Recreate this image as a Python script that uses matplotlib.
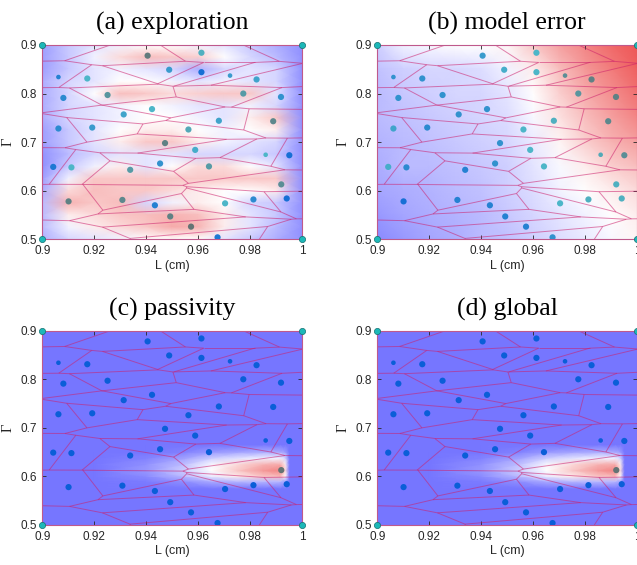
import numpy as np
import matplotlib.pyplot as plt
from matplotlib.colors import LinearSegmentedColormap
from matplotlib.collections import LineCollection

plt.rcParams['font.family'] = ['Liberation Sans', 'DejaVu Sans']

# 采样点坐标 (L, Gamma)
L_pts = [0.9405, 0.9612, 0.9062, 0.9173, 0.9488, 0.9612, 0.9722, 0.9824,
         0.9081, 0.9251, 0.9773, 0.9918, 0.9422, 0.9313, 0.9679, 0.9888,
         0.9062, 0.9192, 0.9562, 0.9472, 0.9588, 0.9859, 0.9950, 0.9042,
         0.9112, 0.9338, 0.9453, 0.9641, 0.9919, 0.9101, 0.9308, 0.9433,
         0.9703, 0.9812, 0.9940, 0.9492, 0.9572, 0.9674]
G_pts = [0.878, 0.884, 0.834, 0.831, 0.849, 0.844, 0.837, 0.829,
         0.791, 0.797, 0.800, 0.793, 0.768, 0.757, 0.744, 0.743,
         0.728, 0.730, 0.726, 0.698, 0.684, 0.674, 0.673, 0.649,
         0.648, 0.643, 0.656, 0.650, 0.613, 0.578, 0.581, 0.570,
         0.574, 0.582, 0.584, 0.547, 0.526, 0.504]
small_idx = [2, 6, 21]

# 四个角点
corner_L = [0.9, 1.0, 0.9, 1.0]
corner_G = [0.5, 0.5, 0.9, 0.9]

# 各子图中采样点的颜色值 (0 蓝, 0.5 青, 1 灰)
pt_a = [0.95, 0.55, 0.2, 0.5, 0.35, 0.1, 0.35, 0.4,
        0.25, 0.75, 0.7, 0.3, 0.5, 0.4, 0.4, 0.85,
        0.25, 0.35, 0.6, 0.9, 0.45, 0.5, 0.1, 0.15,
        0.5, 0.7, 0.3, 0.7, 0.8, 0.9, 0.85, 0.2,
        0.5, 0.25, 0.1, 0.9, 1.0, 0.15]
pt_b = [0.35, 0.5, 0.3, 0.3, 0.45, 0.5, 0.8, 0.9,
        0.3, 0.3, 0.75, 0.9, 0.3, 0.3, 0.55, 0.85,
        0.4, 0.25, 0.5, 0.3, 0.5, 0.6, 0.8, 0.45,
        0.25, 0.2, 0.3, 0.5, 0.55, 0.1, 0.2, 0.2,
        0.5, 0.55, 0.55, 0.2, 0.2, 0.3]
pt_c = [0, 0, 0, 0, 0, 0, 0, 0,
        0, 0, 0, 0, 0, 0, 0, 0,
        0, 0, 0, 0, 0, 0, 0, 0,
        0, 0, 0, 0, 1, 0, 0, 0,
        0, 0, 0, 0, 0, 0]

# 背景场网格 (-1 蓝, 0 白, 1 红)
grid_L = [0.9, 0.91, 0.92, 0.93, 0.94, 0.95, 0.96, 0.97, 0.98, 0.99, 1.0]
grid_G_a = [0.9, 0.875, 0.85, 0.825, 0.8, 0.775, 0.75, 0.725, 0.7,
            0.675, 0.65, 0.625, 0.6, 0.575, 0.55, 0.525, 0.5]
field_a = [
    [-0.7, -0.4, -0.2, -0.1, 0.0, 0.0, -0.1, -0.2, -0.4, -0.6, -0.8],
    [-0.7, -0.4, -0.1, 0.2, 0.35, 0.3, 0.25, 0.0, -0.3, -0.5, -0.8],
    [-0.7, -0.4, -0.2, -0.1, -0.2, -0.3, -0.6, -0.3, -0.2, -0.3, -0.8],
    [-0.6, -0.3, -0.2, 0.0, 0.0, -0.1, -0.2, -0.1, -0.2, -0.3, -0.8],
    [-0.6, -0.3, 0.0, 0.35, 0.3, 0.2, 0.25, 0.3, 0.3, -0.2, -0.8],
    [-0.6, -0.3, -0.2, -0.1, 0.0, -0.1, -0.2, -0.2, -0.1, -0.3, -0.8],
    [-0.6, -0.3, -0.2, -0.1, 0.0, 0.0, -0.1, -0.2, 0.1, 0.3, -0.8],
    [-0.7, -0.4, -0.2, 0.0, 0.1, 0.1, 0.0, -0.1, 0.0, 0.1, -0.8],
    [-0.7, -0.4, -0.2, 0.1, 0.3, 0.3, 0.1, -0.1, -0.2, -0.3, -0.8],
    [-0.8, -0.5, -0.3, -0.2, -0.2, -0.2, -0.3, -0.3, -0.3, -0.4, -0.8],
    [-0.8, -0.4, -0.1, 0.1, -0.2, 0.0, 0.2, 0.2, 0.0, -0.2, -0.8],
    [-0.7, -0.1, 0.3, 0.3, 0.3, 0.3, 0.3, 0.3, 0.3, 0.3, -0.8],
    [-0.6, 0.2, 0.35, 0.3, 0.3, 0.2, 0.1, 0.0, 0.0, 0.1, -0.8],
    [-0.5, 0.4, 0.3, 0.35, -0.3, -0.1, 0.1, 0.0, -0.3, -0.4, -0.8],
    [-0.5, 0.1, 0.2, 0.3, 0.35, 0.4, 0.35, 0.1, -0.2, -0.4, -0.8],
    [-0.5, -0.1, 0.1, 0.2, 0.3, 0.45, 0.4, 0.1, -0.2, -0.5, -0.8],
    [-0.6, -0.3, -0.2, -0.1, 0.0, 0.0, 0.0, -0.2, -0.4, -0.6, -0.8],
]
grid_G_b = [0.9, 0.85, 0.8, 0.75, 0.7, 0.65, 0.6, 0.55, 0.5]
field_b = [
    [-0.35, -0.1, -0.05, 0.0, 0.0, 0.05, 0.3, 0.5, 0.65, 0.8, 0.9],
    [-0.45, -0.35, -0.3, -0.3, -0.25, -0.1, 0.1, 0.35, 0.55, 0.7, 0.85],
    [-0.5, -0.4, -0.35, -0.3, -0.3, -0.2, 0.0, 0.25, 0.45, 0.6, 0.75],
    [-0.5, -0.45, -0.4, -0.35, -0.3, -0.25, -0.05, 0.15, 0.35, 0.5, 0.65],
    [-0.55, -0.5, -0.45, -0.4, -0.35, -0.3, -0.15, 0.05, 0.25, 0.4, 0.5],
    [-0.6, -0.5, -0.5, -0.45, -0.4, -0.35, -0.2, -0.05, 0.1, 0.25, 0.35],
    [-0.65, -0.6, -0.55, -0.5, -0.45, -0.35, -0.25, -0.1, 0.0, 0.1, 0.2],
    [-0.75, -0.65, -0.6, -0.55, -0.5, -0.4, -0.3, -0.2, -0.1, 0.0, 0.1],
    [-0.85, -0.75, -0.65, -0.6, -0.5, -0.45, -0.35, -0.25, -0.15, -0.05, 0.05],
]
# (c)(d) 只有右侧一块楔形非蓝区域
wedge_L = [0.92, 0.94, 0.955, 0.965, 0.975, 0.985, 0.9915, 0.9935, 0.995]
wedge_G = [0.575, 0.59, 0.60, 0.612, 0.625, 0.637, 0.65, 0.665]
field_c = [
    [-1, -1, -1, -1, -1, -1, -1, -1, -1],
    [-1, -0.95, -0.8, -0.6, -0.5, -0.5, -0.5, -0.7, -1],
    [-1, -0.85, -0.5, -0.15, 0.1, 0.3, 0.35, 0.0, -1],
    [-1, -0.75, -0.35, 0.0, 0.3, 0.55, 0.65, 0.2, -1],
    [-1, -0.8, -0.45, -0.05, 0.2, 0.4, 0.45, 0.1, -1],
    [-1, -0.9, -0.65, -0.35, -0.2, -0.1, -0.1, -0.3, -1],
    [-1, -1, -0.9, -0.75, -0.65, -0.6, -0.6, -0.7, -1],
    [-1, -1, -1, -1, -1, -1, -1, -1, -1],
]

titles = ['(a) exploration', '(b) model error', '(c) passivity', '(d) global']

cmap_bg = LinearSegmentedColormap.from_list('bwr2', ['#7676ff', '#ffffff', '#ec4444'])
cmap_pt = LinearSegmentedColormap.from_list('pts', ['#0a5ed8', '#4db6c8', '#647474'])
line_col = (0.8, 0.12, 0.42, 0.55)


def voronoi_segments(P, xlim, ylim):
    # 在原始坐标下求 Voronoi 边 (成对平分线裁剪)
    n = len(P)
    sq = (P ** 2).sum(axis=1)
    segs = []
    for i in range(n):
        for j in range(i + 1, n):
            m = (P[i] + P[j]) / 2
            d = np.array([-(P[j, 1] - P[i, 1]), P[j, 0] - P[i, 0]])
            t0, t1 = -np.inf, np.inf
            for k in range(n):
                if k == i or k == j:
                    continue
                a = 2 * d.dot(P[k] - P[i])
                b = sq[k] - sq[i] - 2 * m.dot(P[k] - P[i])
                if abs(a) < 1e-15:
                    if b < 0:
                        t0, t1 = 1, 0
                        break
                elif a > 0:
                    t1 = min(t1, b / a)
                else:
                    t0 = max(t0, b / a)
            for ax_i, (lo, hi) in enumerate([xlim, ylim]):
                if abs(d[ax_i]) < 1e-15:
                    if not (lo <= m[ax_i] <= hi):
                        t0, t1 = 1, 0
                    continue
                ta = (lo - m[ax_i]) / d[ax_i]
                tb = (hi - m[ax_i]) / d[ax_i]
                t0 = max(t0, min(ta, tb))
                t1 = min(t1, max(ta, tb))
            if t1 > t0:
                segs.append([m + t0 * d, m + t1 * d])
    return segs


P = np.column_stack([L_pts + corner_L, G_pts + corner_G])
segs = voronoi_segments(P, (0.9, 1.0), (0.5, 0.9))

fig = plt.figure(figsize=(6.37, 5.65), dpi=100)
lefts = [0.0664, 0.5923, 0.0664, 0.5923]
bottoms = [0.5765, 0.5765, 0.0708, 0.0708]
pt_vals = [pt_a, pt_b, pt_c, pt_c]

sizes = np.full(len(L_pts), 20.0)
sizes[small_idx] = 11.0

for n in range(4):
    ax = fig.add_axes([lefts[n], bottoms[n], 0.4082, 0.3439])
    if n == 0:
        ax.pcolormesh(grid_L, grid_G_a, np.array(field_a), cmap=cmap_bg,
                      vmin=-1, vmax=1, shading='gouraud')
    elif n == 1:
        ax.pcolormesh(grid_L, grid_G_b, np.array(field_b), cmap=cmap_bg,
                      vmin=-1, vmax=1, shading='gouraud')
    else:
        ax.set_facecolor(cmap_bg(0.0))
        ax.pcolormesh(wedge_L, wedge_G, np.array(field_c), cmap=cmap_bg,
                      vmin=-1, vmax=1, shading='gouraud')

    ax.add_collection(LineCollection(segs, colors=[line_col], linewidths=0.7))

    ax.scatter(L_pts, G_pts, c=pt_vals[n], cmap=cmap_pt, vmin=0, vmax=1,
               s=sizes, edgecolors='none', zorder=3)
    ax.scatter(corner_L, corner_G, color='#1cb8b8', edgecolors='#127070',
               linewidths=0.5, s=20, zorder=4, clip_on=False)

    ax.set_xlim(0.9, 1.0)
    ax.set_ylim(0.5, 0.9)
    ax.set_xticks([0.9, 0.92, 0.94, 0.96, 0.98, 1.0])
    ax.set_xticklabels(['0.9', '0.92', '0.94', '0.96', '0.98', '1'])
    ax.set_yticks([0.5, 0.6, 0.7, 0.8, 0.9])
    ax.set_yticklabels(['0.5', '0.6', '0.7', '0.8', '0.9'])
    ax.tick_params(direction='in', top=True, right=True, length=3,
                   width=0.6, labelsize=8.5, colors='#262626', pad=4)
    for sp in ax.spines.values():
        sp.set_edgecolor((0.75, 0.35, 0.55))
        sp.set_linewidth(0.8)
    ax.set_xlabel('L (cm)', fontsize=9, color='#262626', labelpad=2)
    ax.set_ylabel('Γ', fontsize=10.5, color='#262626', labelpad=4,
                  family=['Liberation Serif', 'DejaVu Serif'])
    ax.set_title(titles[n], fontsize=18.5, pad=11,
                 family=['Liberation Serif', 'DejaVu Serif'])

fig.savefig('out.png', dpi=100)
